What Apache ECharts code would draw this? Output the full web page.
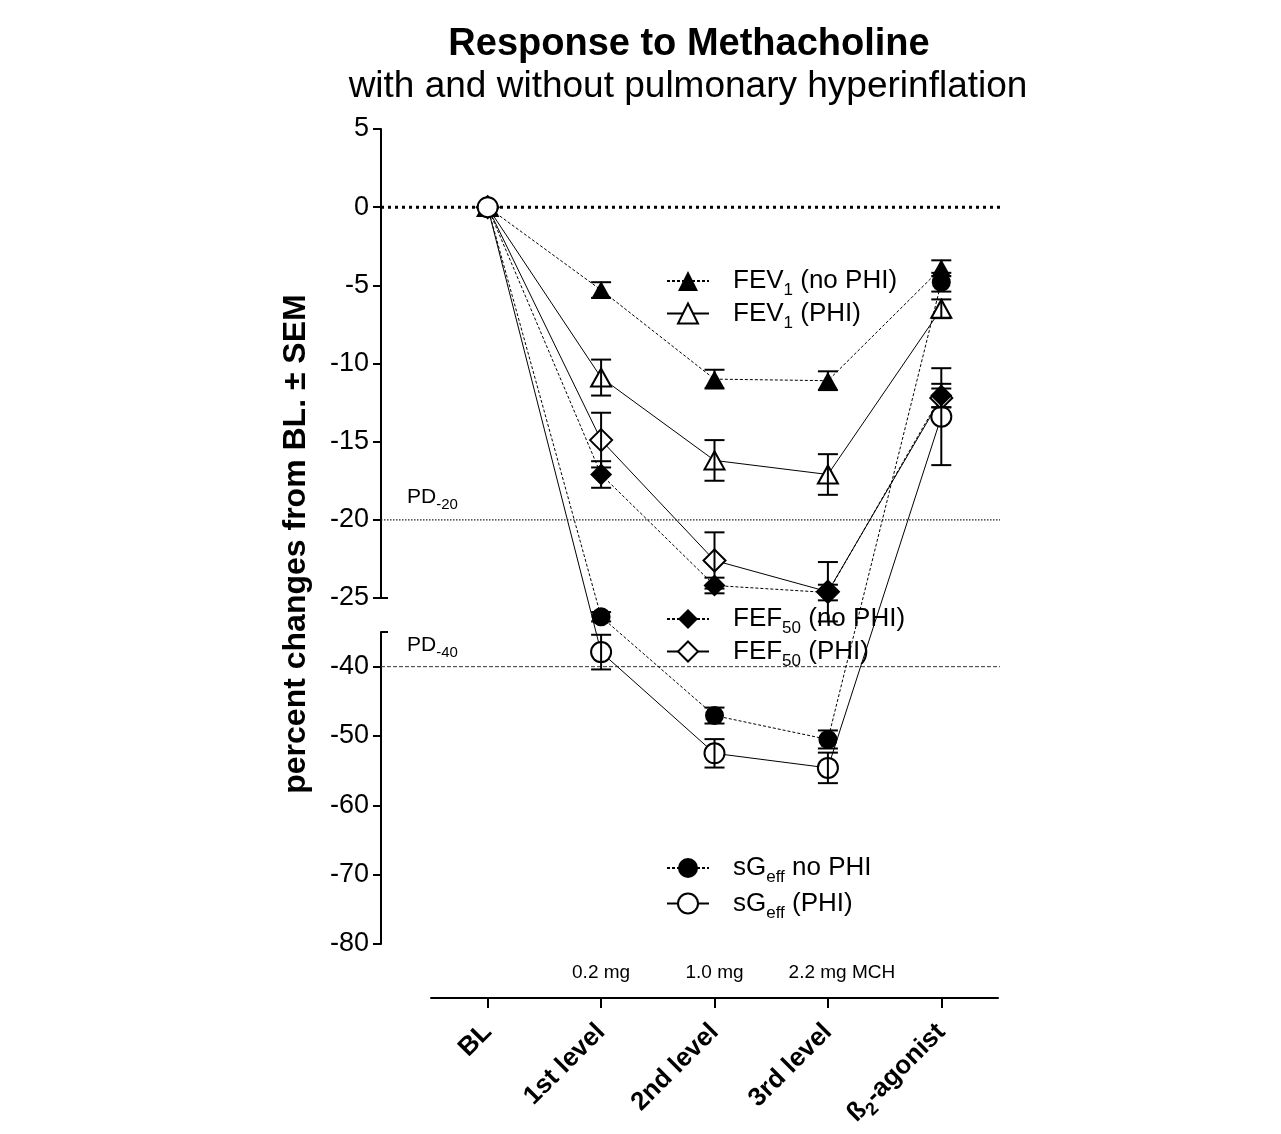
<!DOCTYPE html>
<html><head><meta charset="utf-8">
<script src="https://cdn.jsdelivr.net/npm/echarts@6/dist/echarts.min.js"></script>
<style>html,body{margin:0;padding:0;background:#fff}#c{width:1281px;height:1134px}</style>
</head><body><div id="c"></div>
<script>
// ---------- data ----------
const categories = ['BL', '1st level', '2nd level', '3rd level', 'ß2-agonist'];
const doseLabels = ['', '0.2 mg', '1.0 mg', '2.2 mg MCH', ''];
const upperTickLabels = [5, 0, -5, -10, -15, -20, -25];
const lowerTickLabels = [-40, -50, -60, -70, -80];

const fev1NoPhi     = [0, -5.3, -11.0, -11.1, -3.9];
const fev1NoPhiSem  = [0, 0.5, 0.6, 0.6, 0.5];
const fev1Phi       = [0, -10.9, -16.2, -17.1, -6.5];
const fev1PhiSem    = [0, 1.15, 1.3, 1.3, 0.6];
const fef50NoPhi    = [0, -17.1, -24.2, -24.65, -12.05];
const fef50NoPhiSem = [0, 0.85, 0.5, 0.5, 0.75];
const fef50Phi      = [0, -14.9, -22.6, -24.6, -12.2];
const fef50PhiSem   = [0, 1.75, 1.8, 1.9, 0.6];
const sgNoPhi       = [0, -26.2, -47.05, -50.5, -4.8];
const sgNoPhiSem    = [0, 0.3, 1.15, 1.3, 0.6];
const sgPhi         = [0, -37.9, -52.5, -54.6, -13.4];
const sgPhiSem      = [0, 2.5, 2.05, 2.2, 3.1];

const refLines = { zero: 0, pd20: -20, pd40: -40 };

// ---------- layout ----------
const FONT = 'Liberation Sans, Arial, Helvetica, sans-serif';
const UP_TOP = 129, UP_H = 469, LOW_TOP = 632, LOW_H = 312;
const AX_LEFT = 381, PLOT_RIGHT = 1000;
const UP = { min: -25, max: 5 }, LOW = { min: -80, max: -35 };
const OVER_H = LOW_TOP + LOW_H - UP_TOP;
const BREAK_CAP = 7 / (PLOT_RIGHT - AX_LEFT);

// broken-axis transform: real value -> position on the overlay (pixel-like) axis
function f(v) {
  if (v > (UP.min + LOW.max) / 2) return (UP.max - v) / (UP.max - UP.min) * UP_H;
  return (LOW_TOP - UP_TOP) + (LOW.max - v) / (LOW.max - LOW.min) * LOW_H;
}

const seriesDefs = [
  { name: 'FEF50 (PHI)',    vals: fef50Phi,   sem: fef50PhiSem,   symbol: 'diamond',  size: 22, open: true },
  { name: 'FEF50 (no PHI)', vals: fef50NoPhi, sem: fef50NoPhiSem, symbol: 'diamond',  size: 22, open: false },
  { name: 'FEV1 (PHI)',     vals: fev1Phi,    sem: fev1PhiSem,    symbol: 'triangle', size: [20, 18], open: true },
  { name: 'FEV1 (no PHI)',  vals: fev1NoPhi,  sem: fev1NoPhiSem,  symbol: 'triangle', size: [20, 18], open: false },
  { name: 'sGeff no PHI',   vals: sgNoPhi,    sem: sgNoPhiSem,    symbol: 'circle',   size: 19, open: false },
  { name: 'sGeff (PHI)',    vals: sgPhi,      sem: sgPhiSem,      symbol: 'circle',   size: 20, open: true }
];

const legendText = {
  'FEV1 (no PHI)': '{m|FEV}{s|1}{m| (no PHI)}',
  'FEV1 (PHI)': '{m|FEV}{s|1}{m| (PHI)}',
  'FEF50 (no PHI)': '{m|FEF}{s|50}{m| (no PHI)}',
  'FEF50 (PHI)': '{m|FEF}{s|50}{m| (PHI)}',
  'sGeff no PHI': '{m|sG}{s|eff}{m| no PHI}',
  'sGeff (PHI)': '{m|sG}{s|eff}{m| (PHI)}'
};
const legendRich = {
  m: { fontSize: 26, lineHeight: 26, verticalAlign: 'top', fontFamily: FONT, color: '#000' },
  s: { fontSize: 17, lineHeight: 17, verticalAlign: 'top', padding: [14, 0, 0, 0], fontFamily: FONT, color: '#000' }
};
function mkLegend(names, top, gap) {
  return {
    data: names, orient: 'vertical', left: 666, top: top, padding: 0,
    itemWidth: 42, itemHeight: 25, itemGap: gap, selectedMode: false,
    formatter: n => legendText[n],
    textStyle: { fontSize: 26, fontFamily: FONT, color: '#000', padding: [0, 0, 0, 19], rich: legendRich }
  };
}

const series = [];
// reference lines in the two axis grids
series.push({ type: 'line', xAxisIndex: 2, yAxisIndex: 1, symbol: 'none', silent: true, z: 1,
  data: [[0, refLines.zero], [1, refLines.zero]], lineStyle: { color: '#000', width: 3, type: [3, 4] } });
series.push({ type: 'line', xAxisIndex: 2, yAxisIndex: 1, symbol: 'none', silent: true, z: 1,
  data: [[0, refLines.pd20], [1, refLines.pd20]], lineStyle: { color: '#222', width: 1.3, type: [1.5, 1.5] } });
series.push({ type: 'line', xAxisIndex: 3, yAxisIndex: 2, symbol: 'none', silent: true, z: 1,
  data: [[0, refLines.pd40], [1, refLines.pd40]], lineStyle: { color: '#333', width: 1, type: [4, 2] } });
// small break caps at the ends of the two axis segments
series.push({ type: 'line', xAxisIndex: 2, yAxisIndex: 1, symbol: 'none', silent: true, z: 1,
  data: [[0, UP.min], [BREAK_CAP, UP.min]], lineStyle: { color: '#000', width: 2 } });
series.push({ type: 'line', xAxisIndex: 3, yAxisIndex: 2, symbol: 'none', silent: true, z: 1,
  data: [[0, LOW.max], [BREAK_CAP, LOW.max]], lineStyle: { color: '#000', width: 2 } });

const errData = [];
seriesDefs.forEach(d => {
  series.push({
    name: d.name, type: 'line', xAxisIndex: 0, yAxisIndex: 0, z: 2,
    data: d.vals.map((v, i) => [i, f(v)]),
    symbol: d.symbol, symbolSize: d.size, showAllSymbol: true,
    lineStyle: { color: '#000', width: 1, type: d.open ? 'solid' : [3, 2] },
    itemStyle: d.open ? { color: '#fff', borderColor: '#000', borderWidth: 2 } : { color: '#000', borderColor: '#000', borderWidth: 0 },
    emphasis: { disabled: true }
  });
  d.vals.forEach((v, i) => { if (d.sem[i] > 0) errData.push([i, f(v + d.sem[i]), f(v - d.sem[i])]); });
});
series.push({
  type: 'custom', xAxisIndex: 0, yAxisIndex: 0, z: 3, silent: true,
  data: errData, encode: { x: 0, y: [1, 2] },
  renderItem: function (params, api) {
    const x = api.value(0);
    const a = api.coord([x, api.value(1)]);
    const b = api.coord([x, api.value(2)]);
    const w = 10, st = { stroke: '#000', lineWidth: 2 };
    return { type: 'group', children: [
      { type: 'line', shape: { x1: a[0], y1: a[1], x2: b[0], y2: b[1] }, style: st },
      { type: 'line', shape: { x1: a[0] - w, y1: a[1], x2: a[0] + w, y2: a[1] }, style: st },
      { type: 'line', shape: { x1: b[0] - w, y1: b[1], x2: b[0] + w, y2: b[1] }, style: st }
    ] };
  }
});

const axisLineStyle = { color: '#000', width: 2 };
const option = {
  animation: false,
  backgroundColor: '#fff',
  grid: [
    { left: 431, width: 567, top: UP_TOP, height: OVER_H },
    { left: AX_LEFT, width: PLOT_RIGHT - AX_LEFT, top: UP_TOP, height: UP_H },
    { left: AX_LEFT, width: PLOT_RIGHT - AX_LEFT, top: LOW_TOP, height: LOW_H }
  ],
  xAxis: [
    { gridIndex: 0, type: 'category', data: categories, boundaryGap: true, position: 'bottom', offset: 54,
      axisLine: { show: true, onZero: false, lineStyle: axisLineStyle },
      axisTick: { show: true, interval: 0, alignWithLabel: true, inside: false, length: 10, lineStyle: axisLineStyle },
      axisLabel: { interval: 0, rotate: 45, margin: 30, color: '#000', fontSize: 26, fontWeight: 'bold', fontFamily: FONT,
        formatter: v => v.indexOf('2-agonist') > 0 ? '{b|ß}{t|2}{b|-agonist}' : v,
        rich: { b: { fontSize: 26, fontWeight: 'bold', fontFamily: FONT, color: '#000', lineHeight: 26, verticalAlign: 'top' },
                t: { fontSize: 18, fontWeight: 'bold', fontFamily: FONT, color: '#000', lineHeight: 18, verticalAlign: 'top', padding: [13, 0, 0, 0] } } } },
    { gridIndex: 0, type: 'category', data: doseLabels, boundaryGap: true, position: 'bottom', offset: 54,
      axisLine: { show: false, onZero: false }, axisTick: { show: false },
      axisLabel: { interval: 0, inside: true, margin: 16, color: '#000', fontSize: 19, fontFamily: FONT,
        formatter: v => v.indexOf('MCH') > 0 ? '{r|' + v + '}' : v,
        rich: { r: { fontSize: 19, fontFamily: FONT, color: '#000', padding: [0, 0, 0, 28] } } } },
    { gridIndex: 1, type: 'value', min: 0, max: 1, show: false },
    { gridIndex: 2, type: 'value', min: 0, max: 1, show: false }
  ],
  yAxis: [
    { gridIndex: 0, type: 'value', min: 0, max: OVER_H, inverse: true, show: false },
    { gridIndex: 1, type: 'value', min: UP.min, max: UP.max, interval: 5, splitLine: { show: false },
      axisLine: { show: true, onZero: false, lineStyle: axisLineStyle }, axisTick: { show: true, length: 8, lineStyle: axisLineStyle },
      axisLabel: { color: '#000', fontSize: 27, fontFamily: FONT, margin: 12,
        formatter: v => upperTickLabels.indexOf(v) >= 0 ? String(v) : '' } },
    { gridIndex: 2, type: 'value', min: LOW.min, max: LOW.max, interval: 10, splitLine: { show: false },
      axisLine: { show: true, onZero: false, lineStyle: axisLineStyle }, axisTick: { show: true, length: 8, lineStyle: axisLineStyle },
      axisLabel: { color: '#000', fontSize: 27, fontFamily: FONT, margin: 12, showMaxLabel: false,
        formatter: v => lowerTickLabels.indexOf(v) >= 0 ? String(v) : '' } }
  ],
  legend: [
    mkLegend(['FEV1 (no PHI)', 'FEV1 (PHI)'], 268, 1.5),
    mkLegend(['FEF50 (no PHI)', 'FEF50 (PHI)'], 606, 1.5),
    mkLegend(['sGeff no PHI', 'sGeff (PHI)'], 855, 4.5)
  ],
  graphic: [
    { type: 'text', x: 689, y: 45, style: { text: 'Response to Methacholine', font: 'bold 38px ' + FONT, fill: '#000', textAlign: 'center', textVerticalAlign: 'middle' } },
    { type: 'text', x: 688, y: 87, style: { text: 'with and without pulmonary hyperinflation', font: '37px ' + FONT, fill: '#000', textAlign: 'center', textVerticalAlign: 'middle' } },
    { type: 'text', x: 296, y: 544, rotation: Math.PI / 2, style: { text: 'percent changes from BL. ± SEM', font: 'bold 32px ' + FONT, fill: '#000', textAlign: 'center', textVerticalAlign: 'middle' } },
    { type: 'text', x: 407, y: 487, style: { text: '{a|PD}{s|-20}', textVerticalAlign: 'top',
        rich: { a: { fontSize: 21, lineHeight: 21, verticalAlign: 'top', fontFamily: FONT, fill: '#000' },
                s: { fontSize: 15, lineHeight: 15, verticalAlign: 'top', padding: [10, 0, 0, 0], fontFamily: FONT, fill: '#000' } } } },
    { type: 'text', x: 407, y: 635, style: { text: '{a|PD}{s|-40}', textVerticalAlign: 'top',
        rich: { a: { fontSize: 21, lineHeight: 21, verticalAlign: 'top', fontFamily: FONT, fill: '#000' },
                s: { fontSize: 15, lineHeight: 15, verticalAlign: 'top', padding: [10, 0, 0, 0], fontFamily: FONT, fill: '#000' } } } }
  ],
  series: series
};
const chart = echarts.init(document.getElementById('c'), null, { renderer: 'canvas' });
chart.setOption(option);
</script>
</body></html>
